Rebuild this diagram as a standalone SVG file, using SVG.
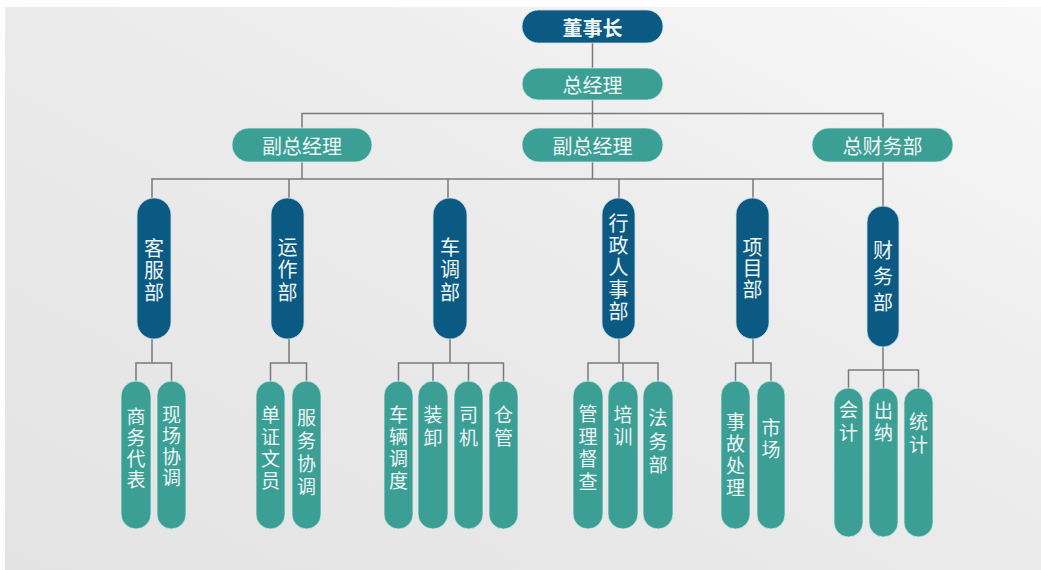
<svg xmlns="http://www.w3.org/2000/svg" width="1041" height="570" viewBox="0 0 1041 570">
<defs>
<linearGradient id="bg" x1="0" y1="1" x2="1" y2="0">
<stop offset="0" stop-color="#e3e3e3"/>
<stop offset="0.6" stop-color="#ececec"/>
<stop offset="1" stop-color="#f8f8f8"/>
</linearGradient>
</defs>
<style>
.dark{fill:#0b5a83;stroke:#cfe0e8;stroke-width:0.8}
.teal{fill:#3c9f96;stroke:#d4ecea;stroke-width:0.8}
.t{font-family:"Noto Sans CJK SC","Noto Sans",sans-serif;fill:#eef5f5;text-anchor:middle;dominant-baseline:central}
.v{font-family:"Noto Sans CJK SC","Noto Sans",sans-serif;fill:#eef5f5;writing-mode:vertical-rl;text-anchor:start}
.h{font-size:20px}
.d{font-size:20px}
.s{font-size:19px}
.con{fill:none;stroke:#7a7a7a;stroke-width:1.5}
</style>
<rect x="0" y="0" width="1041" height="570" fill="#ffffff"/>
<rect x="5" y="7" width="1036" height="563" fill="url(#bg)"/>

<g id="connectors" class="con">
<path d="M592.5,43V68M592.5,100V128M592.5,162V179"/>
<path d="M302,128V113.5H883V128"/>
<path d="M302,162V179"/>
<path d="M152,198V179H883M883,162V207"/>
<path d="M289,179V198M448,179V198M619,179V198M753,179V198"/>
<path d="M152,339V363M136,381V363H171.5V381"/>
<path d="M289,339V363M270.5,381V363H306.5V381"/>
<path d="M450,339V363M398.5,381V363H503.5V381M433,363V381M468.5,363V381"/>
<path d="M619,339V363M588,381V363H658V381M623,363V381"/>
<path d="M753,339V363M735.5,381V363H771V381"/>
<path d="M883,347V370M848.5,388V370H918.5V388M883.5,370V388"/>
</g>

<g id="n-dsz"><rect class="dark" x="522" y="10" width="141" height="33" rx="16.5"/><text class="t h" x="592.5" y="27" font-weight="bold">董事长</text></g>
<g id="n-zjl"><rect class="teal" x="522" y="68" width="141" height="32" rx="16"/><text class="t h" x="592.5" y="84.5">总经理</text></g>
<g id="n-fzjl1"><rect class="teal" x="232" y="128" width="140" height="34" rx="17"/><text class="t h" x="302" y="145">副总经理</text></g>
<g id="n-fzjl2"><rect class="teal" x="522" y="128" width="141" height="34" rx="17"/><text class="t h" x="592.5" y="145">副总经理</text></g>
<g id="n-zcwb"><rect class="teal" x="812" y="128" width="141" height="34" rx="17"/><text class="t h" x="882.5" y="145">总财务部</text></g>

<g id="n-kfb"><rect class="dark" x="137" y="198" width="34" height="141" rx="17"/><text class="v d" x="154" y="238" letter-spacing="2">客服部</text></g>
<g id="n-yzb"><rect class="dark" x="271" y="198" width="33" height="141" rx="16.5"/><text class="v d" x="287.5" y="237" letter-spacing="2.5">运作部</text></g>
<g id="n-cdb"><rect class="dark" x="433" y="198" width="34" height="141" rx="17"/><text class="v d" x="450" y="237" letter-spacing="2.5">车调部</text></g>
<g id="n-xzrsb"><rect class="dark" x="602" y="198" width="33" height="141" rx="16.5"/><text class="v d" x="618.5" y="213" letter-spacing="2">行政人事部</text></g>
<g id="n-xmb"><rect class="dark" x="736" y="198" width="33" height="141" rx="16.5"/><text class="v d" x="752.5" y="237" letter-spacing="1">项目部</text></g>
<g id="n-cwb"><rect class="dark" x="867" y="206" width="32" height="141" rx="16"/><text class="v d" x="883" y="240" letter-spacing="6">财务部</text></g>

<g id="n-swdb"><rect class="teal" x="121" y="381" width="30" height="148" rx="15"/><text class="v s" x="136" y="407.5" letter-spacing="2">商务代表</text></g>
<g id="n-xcxt"><rect class="teal" x="157" y="381" width="29" height="148" rx="14.5"/><text class="v s" x="171.5" y="405.5" letter-spacing="2">现场协调</text></g>
<g id="n-dzwy"><rect class="teal" x="256" y="381" width="29" height="148" rx="14.5"/><text class="v s" x="270.5" y="405.5" letter-spacing="3">单证文员</text></g>
<g id="n-fwxt"><rect class="teal" x="292" y="381" width="29" height="148" rx="14.5"/><text class="v s" x="306.5" y="408.5" letter-spacing="4">服务协调</text></g>
<g id="n-clld"><rect class="teal" x="384" y="381" width="29" height="148" rx="14.5"/><text class="v s" x="398.5" y="405.5" letter-spacing="3">车辆调度</text></g>
<g id="n-zx"><rect class="teal" x="418" y="381" width="30" height="148" rx="15"/><text class="v s" x="433" y="405.5" letter-spacing="4">装卸</text></g>
<g id="n-sj"><rect class="teal" x="454" y="381" width="29" height="148" rx="14.5"/><text class="v s" x="468.5" y="405.5" letter-spacing="4">司机</text></g>
<g id="n-cg"><rect class="teal" x="489" y="381" width="29" height="148" rx="14.5"/><text class="v s" x="503.5" y="405.5" letter-spacing="4">仓管</text></g>
<g id="n-gldc"><rect class="teal" x="573" y="381" width="30" height="148" rx="15"/><text class="v s" x="588" y="404.5" letter-spacing="3.5">管理督查</text></g>
<g id="n-px"><rect class="teal" x="608" y="381" width="30" height="148" rx="15"/><text class="v s" x="623" y="405.5" letter-spacing="3">培训</text></g>
<g id="n-fwb"><rect class="teal" x="643" y="381" width="30" height="148" rx="15"/><text class="v s" x="658" y="408.5" letter-spacing="4.5">法务部</text></g>
<g id="n-sgcl"><rect class="teal" x="721" y="381" width="29" height="148" rx="14.5"/><text class="v s" x="735.5" y="412.5" letter-spacing="3">事故处理</text></g>
<g id="n-sc"><rect class="teal" x="757" y="381" width="28" height="148" rx="14"/><text class="v s" x="771" y="418.5" letter-spacing="3">市场</text></g>
<g id="n-kj"><rect class="teal" x="834" y="388" width="29" height="149" rx="14.5"/><text class="v s" x="848.5" y="400.5" letter-spacing="4">会计</text></g>
<g id="n-cn"><rect class="teal" x="869" y="388" width="29" height="149" rx="14.5"/><text class="v s" x="883.5" y="401.5" letter-spacing="3">出纳</text></g>
<g id="n-tj"><rect class="teal" x="904" y="388" width="29" height="149" rx="14.5"/><text class="v s" x="918.5" y="412.5" letter-spacing="4">统计</text></g>
</svg>
